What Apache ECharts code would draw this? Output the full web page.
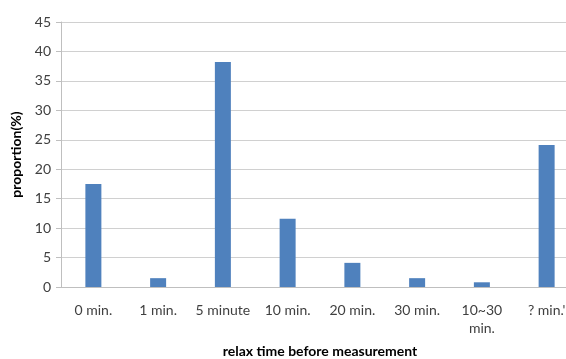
<!DOCTYPE html>
<html>
<head>
<meta charset="utf-8">
<script src="https://cdn.jsdelivr.net/npm/echarts@6/dist/echarts.min.js"></script>
<style>
  html, body { margin: 0; padding: 0; background: #fff; overflow: hidden; }
  #chart { width: 566px; height: 359px; }
</style>
</head>
<body>
<div id="chart"></div>
<script>
// Relax time categories and the share of measurements for each
const categories = ['0 min.', '1 min.', '5 minute', '10 min.', '20 min.', '30 min.', '10~30\nmin.', "? min.'"];
const proportions = [17.5, 1.5, 38.2, 11.6, 4.1, 1.5, 0.8, 24.1];
const yTicks = { min: 0, max: 45, interval: 5 };

const chart = echarts.init(document.getElementById('chart'));
chart.setOption({
  animation: false,
  textStyle: { fontFamily: 'Lato, "Open Sans", sans-serif' },
  // the plot runs a little past the right edge, so the last category is cut off
  grid: { left: 61, right: -13, top: 22, bottom: 72, containLabel: false, outerBoundsMode: 'none' },
  xAxis: {
    type: 'category',
    data: categories,
    name: 'relax time before measurement',
    nameLocation: 'middle',
    nameGap: 57,
    nameTextStyle: { fontSize: 14, fontWeight: 'bold', color: '#000' },
    axisLine: { lineStyle: { color: '#bfbfbf' } },
    axisTick: { show: false },
    axisLabel: { fontSize: 14, color: '#404040', margin: 14, lineHeight: 18, interval: 0 }
  },
  yAxis: {
    type: 'value',
    min: yTicks.min,
    max: yTicks.max,
    interval: yTicks.interval,
    name: 'proportion(%)',
    nameLocation: 'middle',
    nameGap: 32,
    nameRotate: 90,
    nameTextStyle: { fontSize: 14, fontWeight: 'bold', color: '#000' },
    axisLine: { show: true, lineStyle: { color: '#bfbfbf' } },
    axisTick: { show: true, length: 5, lineStyle: { color: '#bfbfbf' } },
    axisLabel: { fontSize: 14, color: '#404040', margin: 10 },
    splitLine: { lineStyle: { color: '#d0d0d0' } }
  },
  series: [{
    type: 'bar',
    data: proportions,
    barWidth: 16,
    itemStyle: { color: '#4f81bd' }
  }]
});
</script>
</body>
</html>
